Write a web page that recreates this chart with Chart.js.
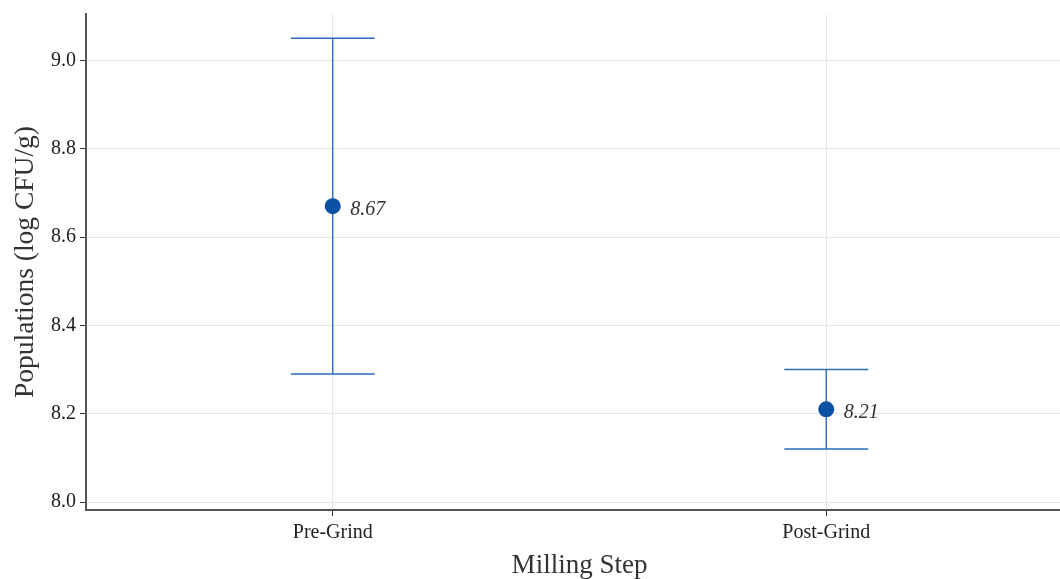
<!DOCTYPE html>
<html>
<head>
<meta charset="utf-8">
<script src="https://cdn.jsdelivr.net/npm/chart.js@4/dist/chart.umd.min.js"></script>
<style>
  html, body { margin: 0; padding: 0; background: #ffffff; overflow: hidden; }
  #wrap { width: 1073px; height: 579px; }
</style>
</head>
<body>
<div id="wrap"><canvas id="c" width="1073" height="579"></canvas></div>
<script>
// Population means per milling step, with error-bar limits (log CFU/g)
const categories = ['Pre-Grind', 'Post-Grind'];
const means = [8.67, 8.21];
const upper = [9.05, 8.30];
const lower = [8.29, 8.12];
const yTicks = [8.0, 8.2, 8.4, 8.6, 8.8, 9.0];

const SERIF = '"Liberation Serif", "Times New Roman", serif';
const BAR_COLOR = '#2c6db9';
const POINT_COLOR = '#0a51a3';
const CAP_HALF = 0.085; // half cap width, in x-axis units

const points = categories.map((c, i) => ({ x: i + 1, y: means[i] }));

// Draws vertical error bars with caps underneath the points, then value labels
const errorBars = {
  id: 'errorBars',
  beforeDatasetsDraw(chart) {
    const { ctx, scales: { x, y } } = chart;
    ctx.save();
    ctx.strokeStyle = BAR_COLOR;
    ctx.lineWidth = 1.4;
    categories.forEach((c, i) => {
      const px = x.getPixelForValue(i + 1);
      const yt = y.getPixelForValue(upper[i]);
      const yb = y.getPixelForValue(lower[i]);
      const xl = x.getPixelForValue(i + 1 - CAP_HALF);
      const xr = x.getPixelForValue(i + 1 + CAP_HALF);
      ctx.beginPath();
      ctx.moveTo(px, yt); ctx.lineTo(px, yb);
      ctx.moveTo(xl, yt); ctx.lineTo(xr, yt);
      ctx.moveTo(xl, yb); ctx.lineTo(xr, yb);
      ctx.stroke();
    });
    ctx.restore();
  },
  afterDatasetsDraw(chart) {
    const { ctx, scales: { x, y } } = chart;
    ctx.save();
    ctx.font = 'italic 20px ' + SERIF;
    ctx.fillStyle = '#333333';
    ctx.textAlign = 'left';
    ctx.textBaseline = 'alphabetic';
    categories.forEach((c, i) => {
      const px = x.getPixelForValue(i + 1);
      const py = y.getPixelForValue(means[i]);
      ctx.fillText(means[i].toFixed(2), px + 17.5, py + 8.5);
    });
    ctx.restore();
  }
};

new Chart(document.getElementById('c'), {
  type: 'scatter',
  data: {
    datasets: [{
      data: points,
      pointRadius: 8,
      pointHoverRadius: 8,
      pointBackgroundColor: POINT_COLOR,
      pointBorderWidth: 0,
      showLine: false,
      clip: false
    }]
  },
  options: {
    responsive: false,
    animation: false,
    events: [],
    layout: { autoPadding: false, padding: { top: 14, left: 0, right: 0, bottom: 0 } },
    plugins: { legend: { display: false }, tooltip: { enabled: false } },
    scales: {
      x: {
        type: 'linear',
        min: 0.5,
        max: 2.5,
        afterBuildTicks(scale) {
          scale.ticks = categories.map((c, i) => ({ value: i + 1 }));
        },
        afterFit(scale) {
          scale.height = 69;
          scale.paddingLeft = 0;
          scale.paddingRight = 0;
        },
        ticks: {
          callback: (v) => categories[Math.round(v) - 1] || '',
          font: { family: SERIF, size: 20 },
          color: '#222222',
          padding: 5,
          maxRotation: 0,
          autoSkip: false
        },
        grid: {
          color: '#e6e6e6',
          lineWidth: 1,
          tickColor: '#333333',
          tickLength: 6,
          drawTicks: true
        },
        border: { display: true, color: '#555555', width: 2 },
        title: {
          display: true,
          text: 'Milling Step',
          font: { family: SERIF, size: 27, lineHeight: 1 },
          color: '#333333',
          padding: { top: 0, bottom: 0 }
        }
      },
      y: {
        type: 'linear',
        min: 7.982,
        max: 9.105,
        afterBuildTicks(scale) {
          scale.ticks = yTicks.map(v => ({ value: v }));
        },
        afterFit(scale) {
          scale.width = 86;
          scale.paddingTop = 0;
          scale.paddingBottom = 0;
        },
        ticks: {
          callback: (v) => Number(v).toFixed(1),
          font: { family: SERIF, size: 20 },
          color: '#222222',
          padding: 4
        },
        grid: {
          color: '#e6e6e6',
          lineWidth: 1,
          tickColor: '#333333',
          tickLength: 6,
          drawTicks: true
        },
        border: { display: true, color: '#555555', width: 2 },
        title: {
          display: true,
          text: 'Populations (log CFU/g)',
          font: { family: SERIF, size: 27.5, lineHeight: 1 },
          color: '#333333',
          padding: { top: 12, bottom: 0 }
        }
      }
    }
  },
  plugins: [errorBars]
});
</script>
</body>
</html>
